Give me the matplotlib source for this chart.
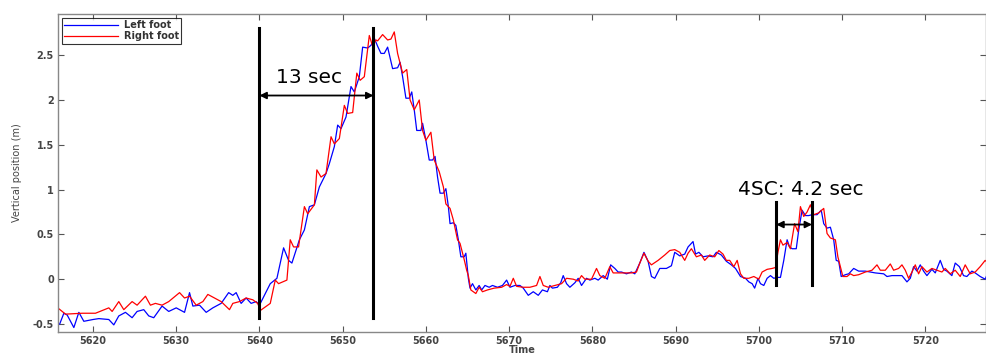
import matplotlib
matplotlib.use('Agg')
import matplotlib.pyplot as plt

# Left foot (blue) - time, vertical position
left_t = [5615.5, 5616.0, 5616.5, 5616.9, 5617.7, 5618.3, 5618.9, 5620.0, 5620.7, 5621.9,
          5622.5, 5623.1, 5623.9, 5624.7, 5625.3, 5626.1, 5626.7, 5627.3, 5628.3, 5629.1,
          5630.0, 5631.0, 5631.6, 5632.0, 5632.8, 5633.6, 5634.4, 5635.4, 5636.3, 5636.8,
          5637.2, 5637.8, 5638.4, 5639.0, 5639.6, 5640.0, 5641.3, 5642.1, 5642.9, 5643.5,
          5643.9, 5644.8, 5645.4, 5646.0, 5646.6, 5647.2, 5648.0, 5648.4, 5649.0, 5649.4,
          5649.8, 5650.4, 5651.0, 5651.4, 5652.0, 5652.4, 5653.0, 5653.4, 5653.8, 5654.2,
          5654.6, 5655.0, 5655.4, 5656.0, 5656.6, 5656.9, 5657.2, 5657.6, 5658.0, 5658.3,
          5658.6, 5658.9, 5659.4, 5659.6, 5660.0, 5660.4, 5660.8, 5661.1, 5661.4, 5661.7,
          5662.1, 5662.4, 5662.7, 5662.9, 5663.3, 5663.6, 5663.9, 5664.2, 5664.6, 5664.8,
          5665.1, 5665.3, 5665.6, 5666.0, 5666.4, 5666.7, 5667.1, 5667.6, 5668.0, 5668.6,
          5669.2, 5669.7, 5670.1, 5670.7, 5671.3, 5671.7, 5672.3, 5672.9, 5673.5, 5674.0,
          5674.6, 5674.9, 5675.2, 5675.8, 5676.2, 5676.5, 5676.9, 5677.3, 5677.9, 5678.3,
          5678.7, 5679.3, 5679.7, 5680.3, 5680.7, 5681.3, 5681.8, 5682.2, 5682.7, 5683.1,
          5683.5, 5684.1, 5684.7, 5685.1, 5685.7, 5686.2, 5686.7, 5687.1, 5687.5, 5688.1,
          5688.9, 5689.5, 5689.9, 5690.5, 5691.1, 5691.5, 5692.1, 5692.4, 5692.8, 5693.3,
          5693.9, 5694.5, 5694.9, 5695.5, 5696.1, 5696.7, 5697.2, 5697.8, 5698.4, 5698.8,
          5699.2, 5699.5, 5699.9, 5700.2, 5700.6, 5701.0, 5701.4, 5701.8, 5702.2, 5702.6,
          5703.0, 5703.4, 5703.7, 5704.0, 5704.5, 5704.8, 5705.2, 5705.6, 5706.0, 5706.4,
          5707.0, 5707.5, 5707.8, 5708.2, 5708.6, 5709.0, 5709.3, 5709.6, 5709.9, 5710.4,
          5710.8, 5711.4, 5712.0, 5712.8, 5714.0, 5715.0, 5715.4, 5716.0, 5716.6, 5717.2,
          5717.8, 5718.2, 5718.6, 5719.0, 5719.4, 5719.8, 5720.2, 5720.8, 5721.2, 5721.8,
          5722.2, 5722.6, 5723.2, 5723.6, 5724.1, 5724.6, 5725.0, 5725.6, 5726.0, 5726.6,
          5727.2, 5727.6]
left_v = [-0.51, -0.50, -0.38, -0.40, -0.54, -0.37, -0.47, -0.45, -0.44, -0.45,
          -0.51, -0.41, -0.37, -0.43, -0.36, -0.34, -0.41, -0.43, -0.30, -0.36,
          -0.32, -0.37, -0.15, -0.30, -0.29, -0.37, -0.32, -0.27, -0.15, -0.18,
          -0.15, -0.27, -0.21, -0.27, -0.25, -0.29, -0.05, 0.01, 0.35, 0.21,
          0.18, 0.44, 0.55, 0.81, 0.83, 1.03, 1.18, 1.29, 1.48, 1.72,
          1.68, 1.81, 2.15, 2.09, 2.26, 2.59, 2.58, 2.61, 2.69, 2.60,
          2.52, 2.52, 2.59, 2.35, 2.36, 2.42, 2.26, 2.02, 2.02, 2.09,
          1.89, 1.66, 1.66, 1.74, 1.55, 1.33, 1.33, 1.37, 1.14, 0.96,
          0.96, 1.01, 0.81, 0.62, 0.63, 0.60, 0.44, 0.25, 0.25, 0.29,
          0.01, -0.10, -0.05, -0.12, -0.07, -0.12, -0.07, -0.09, -0.07, -0.09,
          -0.07, -0.01, -0.09, -0.07, -0.07, -0.10, -0.18, -0.14, -0.18, -0.12,
          -0.14, -0.07, -0.10, -0.09, -0.04, 0.04, -0.05, -0.09, -0.04, 0.01,
          -0.07, 0.01, -0.01, 0.01, -0.01, 0.04, 0.00, 0.16, 0.12, 0.08,
          0.08, 0.06, 0.08, 0.06, 0.18, 0.30, 0.20, 0.03, 0.01, 0.12,
          0.12, 0.15, 0.30, 0.26, 0.28, 0.36, 0.42, 0.28, 0.30, 0.25,
          0.26, 0.25, 0.30, 0.27, 0.20, 0.16, 0.12, 0.03, 0.01, -0.03,
          -0.05, -0.10, 0.01, -0.05, -0.07, 0.01, 0.04, 0.01, 0.02, 0.02,
          0.21, 0.44, 0.36, 0.34, 0.34, 0.55, 0.77, 0.71, 0.71, 0.72,
          0.72, 0.77, 0.62, 0.57, 0.58, 0.44, 0.21, 0.20, 0.03, 0.05,
          0.06, 0.12, 0.09, 0.09, 0.07, 0.06, 0.03, 0.04, 0.04, 0.04,
          -0.03, 0.01, 0.14, 0.09, 0.16, 0.09, 0.04, 0.11, 0.07, 0.21,
          0.11, 0.09, 0.04, 0.18, 0.14, 0.04, 0.03, 0.09, 0.07, 0.03,
          0.00, 0.09]

# Right foot (red)
right_t = [5615.5, 5615.9, 5616.7, 5618.7, 5620.3, 5621.9, 5622.3, 5623.1, 5623.7, 5624.7,
           5625.3, 5626.3, 5626.9, 5627.5, 5628.3, 5629.1, 5630.4, 5631.0, 5631.6, 5632.4,
           5633.2, 5633.8, 5634.6, 5635.4, 5636.4, 5636.8, 5637.6, 5638.4, 5639.2, 5639.8,
           5640.1, 5641.3, 5641.9, 5642.3, 5643.3, 5643.7, 5644.1, 5644.7, 5645.4, 5645.8,
           5646.6, 5646.9, 5647.4, 5648.0, 5648.6, 5649.0, 5649.6, 5650.2, 5650.6, 5651.2,
           5651.7, 5652.1, 5652.6, 5653.2, 5653.6, 5654.0, 5654.2, 5654.8, 5655.4, 5655.8,
           5656.2, 5656.6, 5657.2, 5657.7, 5658.1, 5658.6, 5659.2, 5659.6, 5660.0, 5660.6,
           5661.0, 5661.6, 5662.1, 5662.4, 5662.9, 5663.3, 5663.8, 5664.1, 5664.6, 5664.9,
           5665.1, 5665.4, 5666.0, 5666.4, 5666.8, 5667.4, 5668.2, 5669.1, 5669.7, 5670.1,
           5670.5, 5670.9, 5671.7, 5672.5, 5673.3, 5673.7, 5674.1, 5674.7, 5675.5, 5676.3,
           5676.9, 5677.7, 5678.3, 5678.7, 5679.1, 5679.9, 5680.5, 5680.9, 5681.5, 5682.1,
           5682.5, 5683.1, 5683.9, 5684.7, 5685.3, 5685.7, 5686.2, 5686.7, 5687.1, 5687.9,
           5688.7, 5689.3, 5689.9, 5690.5, 5691.1, 5691.5, 5691.9, 5692.5, 5693.1, 5693.5,
           5694.1, 5694.7, 5695.2, 5695.7, 5696.1, 5696.5, 5697.0, 5697.4, 5697.8, 5698.2,
           5698.8, 5699.4, 5700.0, 5700.4, 5701.0, 5701.6, 5702.0, 5702.3, 5702.6, 5702.9,
           5703.4, 5703.8, 5704.3, 5704.7, 5705.0, 5705.4, 5705.8, 5706.2, 5706.6, 5707.2,
           5707.8, 5708.2, 5708.6, 5709.2, 5709.5, 5709.8, 5710.1, 5710.6, 5711.0, 5711.4,
           5712.0, 5712.8, 5713.6, 5714.2, 5714.6, 5715.2, 5715.8, 5716.2, 5716.8, 5717.2,
           5717.6, 5718.0, 5718.4, 5718.8, 5719.2, 5719.6, 5720.2, 5720.8, 5721.4, 5722.0,
           5722.4, 5723.0, 5723.6, 5724.2, 5724.8, 5725.4, 5726.0, 5726.6, 5727.2, 5727.6]
right_v = [-0.36, -0.33, -0.39, -0.38, -0.38, -0.32, -0.36, -0.25, -0.34, -0.25,
           -0.29, -0.19, -0.29, -0.27, -0.29, -0.25, -0.15, -0.21, -0.19, -0.29,
           -0.25, -0.17, -0.21, -0.25, -0.34, -0.27, -0.25, -0.21, -0.23, -0.27,
           -0.35, -0.27, -0.01, -0.05, -0.01, 0.44, 0.36, 0.36, 0.81, 0.73,
           0.83, 1.22, 1.14, 1.18, 1.59, 1.51, 1.57, 1.94, 1.85, 1.86,
           2.30, 2.22, 2.26, 2.72, 2.60, 2.67, 2.66, 2.73, 2.67, 2.68,
           2.76, 2.52, 2.30, 2.34, 2.00, 1.89, 2.00, 1.66, 1.55, 1.64,
           1.33, 1.20, 1.03, 0.84, 0.79, 0.66, 0.44, 0.40, 0.22, 0.10,
           0.04, -0.12, -0.16, -0.09, -0.14, -0.12, -0.10, -0.09, -0.06, -0.08,
           0.01, -0.08, -0.09, -0.09, -0.07, 0.03, -0.07, -0.09, -0.07, -0.05,
           0.01, 0.00, -0.02, 0.04, 0.00, 0.00, 0.12, 0.04, 0.01, 0.14,
           0.07, 0.07, 0.07, 0.07, 0.08, 0.18, 0.29, 0.20, 0.16, 0.21,
           0.27, 0.32, 0.33, 0.30, 0.21, 0.29, 0.34, 0.25, 0.27, 0.21,
           0.27, 0.25, 0.32, 0.28, 0.21, 0.21, 0.14, 0.21, 0.06, 0.01,
           0.01, 0.03, 0.00, 0.08, 0.11, 0.12, 0.13, 0.30, 0.44, 0.38,
           0.41, 0.34, 0.62, 0.53, 0.81, 0.70, 0.75, 0.83, 0.72, 0.74,
           0.79, 0.51, 0.46, 0.44, 0.25, 0.14, 0.03, 0.03, 0.06, 0.04,
           0.05, 0.08, 0.10, 0.16, 0.10, 0.10, 0.17, 0.10, 0.12, 0.16,
           0.10, 0.01, 0.08, 0.16, 0.06, 0.14, 0.08, 0.12, 0.10, 0.08,
           0.12, 0.06, 0.10, 0.03, 0.16, 0.06, 0.08, 0.14, 0.21, 0.17]

# annotation marks
climb_start, climb_end = 5640.0, 5653.7
sc_start, sc_end = 5702.1, 5706.4

fig = plt.figure(figsize=(9.87, 3.54), dpi=100)
ax = fig.add_axes([0.0588, 0.062, 0.9402, 0.8985])

ax.plot(left_t, left_v, color='#0000ff', lw=0.9, label='Left foot')
ax.plot(right_t, right_v, color='#ff0000', lw=0.9, label='Right foot')

# black markers for the climb
ax.plot([climb_start, climb_start], [-0.43, 2.80], color='k', lw=2.2)
ax.plot([climb_end, climb_end], [-0.43, 2.80], color='k', lw=2.2)
ax.annotate('', xy=(climb_start, 2.05), xytext=(climb_end, 2.05),
            arrowprops=dict(arrowstyle='<|-|>', color='k', lw=1.3, mutation_scale=10,
                            shrinkA=0, shrinkB=0))
ax.text(5645.9, 2.25, '13 sec', fontsize=14.5, family='DejaVu Sans', ha='center', va='center')

ax.plot([sc_start, sc_start], [-0.07, 0.86], color='k', lw=2.2)
ax.plot([sc_end, sc_end], [-0.07, 0.86], color='k', lw=2.2)
ax.annotate('', xy=(sc_start, 0.61), xytext=(sc_end, 0.61),
            arrowprops=dict(arrowstyle='<|-|>', color='k', lw=1.3, mutation_scale=10,
                            shrinkA=0, shrinkB=0))
ax.text(5705.0, 1.0, '4SC: 4.2 sec', fontsize=14.5, family='DejaVu Sans', ha='center', va='center')

ax.set_xlim(5615.8, 5727.3)
ax.set_ylim(-0.59, 2.96)
ax.set_xticks(range(5620, 5721, 10))
ax.set_yticks([-0.5, 0, 0.5, 1, 1.5, 2, 2.5])
ax.set_yticklabels(['-0.5', '0', '0.5', '1', '1.5', '2', '2.5'])
ax.tick_params(direction='in', top=True, right=True, length=4, width=0.8,
               color='#555555', labelsize=7, labelcolor='#444444', pad=3)
for lab in ax.get_xticklabels() + ax.get_yticklabels():
    lab.set_fontweight('bold')
for s in ax.spines.values():
    s.set_color('#888888')
    s.set_linewidth(1.0)

ax.set_xlabel('Time', fontsize=7, color='#444444', fontweight='bold', labelpad=-1)
ax.set_ylabel('Vertical position (m)', fontsize=7, color='#444444', family='Liberation Sans Narrow',
              labelpad=8)

leg = ax.legend(loc='upper left', fontsize=7, frameon=True, fancybox=False,
                borderpad=0.25, handlelength=5.5, labelspacing=0.1, borderaxespad=0.4,
                handletextpad=0.6, prop={'size': 7, 'weight': 'bold'})
leg.get_frame().set_edgecolor('k')
leg.get_frame().set_linewidth(0.8)
for t in leg.get_texts():
    t.set_color('#333333')

plt.savefig('out.png', dpi=100)
